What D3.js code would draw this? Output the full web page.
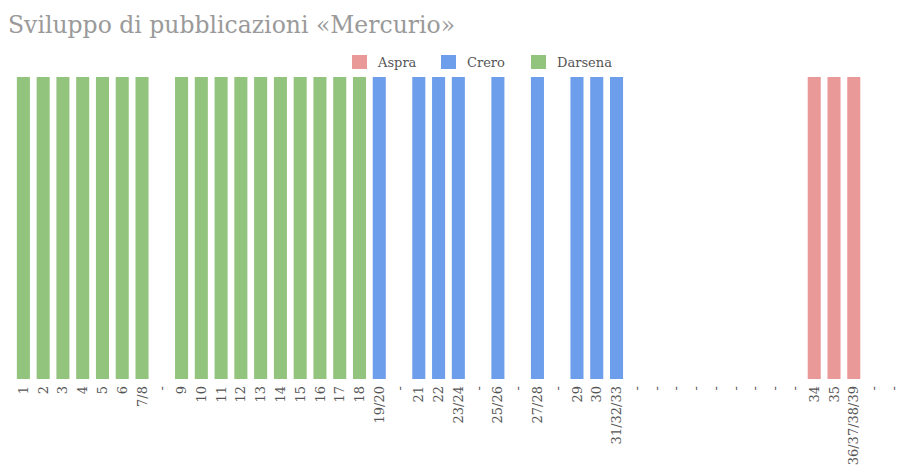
<!DOCTYPE html>
<html>
<head>
<meta charset="utf-8">
<script src="https://cdn.jsdelivr.net/npm/d3@7"></script>
<style>
  body { margin: 0; background: #fff; }
  svg { display: block; }
</style>
</head>
<body>
<svg id="chart"></svg>
<script>
var width = 913;
var height = 468;

// categories as they appear on the axis ("-" = empty slot)
var labels = ["1","2","3","4","5","6","7/8","-","9","10","11","12","13","14","15","16","17","18",
  "19/20","-","21","22","23/24","-","25/26","-","27/28","-","29","30","31/32/33",
  "-","-","-","-","-","-","-","-","-","34","35","36/37/38/39","-","-"];

var seriesNames = ["Aspra", "Crero", "Darsena"];
var colors = ["#ea9999", "#6d9eeb", "#93c47d"];

var aspra   = [0,0,0,0,0,0,0,0,0,0,0,0,0,0,0,0,0,0,0,0,0,0,0,0,0,0,0,0,0,0,0,0,0,0,0,0,0,0,0,0,1,1,1,0,0];
var crero   = [0,0,0,0,0,0,0,0,0,0,0,0,0,0,0,0,0,0,1,0,1,1,1,0,1,0,1,0,1,1,1,0,0,0,0,0,0,0,0,0,0,0,0,0,0];
var darsena = [1,1,1,1,1,1,1,0,1,1,1,1,1,1,1,1,1,1,0,0,0,0,0,0,0,0,0,0,0,0,0,0,0,0,0,0,0,0,0,0,0,0,0,0,0];

var rows = labels.map(function(l, i) {
  return { i: i, Aspra: aspra[i], Crero: crero[i], Darsena: darsena[i] };
});

var svg = d3.select("#chart")
  .attr("width", width)
  .attr("height", height);

svg.append("text")
  .attr("x", 8)
  .attr("y", 33)
  .style("font-family", "DejaVu Serif")
  .style("font-size", "23.5px")
  .style("fill", "#9a9a9a")
  .text("Sviluppo di pubblicazioni «Mercurio»");

var x = d3.scaleBand()
  .domain(d3.range(labels.length))
  .range([13.5, 903.2])
  .paddingInner(0.34)
  .paddingOuter(0.17);

var y = d3.scaleLinear()
  .domain([0, 1])
  .range([379, 77]);

var stack = d3.stack().keys(seriesNames);
var layers = stack(rows);

svg.append("g")
  .selectAll("g")
  .data(layers)
  .enter()
  .append("g")
  .style("fill", function(d, i) { return colors[i]; })
  .selectAll("rect")
  .data(function(d) { return d.filter(function(p) { return p[1] > p[0]; }); })
  .enter()
  .append("rect")
  .attr("x", function(d) { return x(d.data.i); })
  .attr("width", x.bandwidth())
  .attr("y", function(d) { return y(d[1]); })
  .attr("height", function(d) { return y(d[0]) - y(d[1]); });

var xAxis = svg.append("g")
  .attr("transform", "translate(0," + 379 + ")")
  .call(d3.axisBottom(x).tickSize(0).tickFormat(function(i) { return labels[i]; }));

xAxis.select(".domain").remove();
xAxis.selectAll("text")
  .attr("transform", "rotate(-90)")
  .attr("x", -7)
  .attr("y", 0)
  .attr("dy", "0.35em")
  .style("text-anchor", "end")
  .style("font-family", "DejaVu Serif")
  .style("font-size", "13px")
  .style("fill", "#555");

// legend
var legendX = [352, 441, 531];
var legend = svg.append("g")
  .selectAll("g")
  .data(seriesNames)
  .enter()
  .append("g")
  .attr("transform", function(d, i) { return "translate(" + legendX[i] + ",55)"; });

legend.append("rect")
  .attr("width", 15)
  .attr("height", 14)
  .style("fill", function(d, i) { return colors[i]; });

legend.append("text")
  .attr("x", 26)
  .attr("y", 12)
  .style("font-family", "DejaVu Serif")
  .style("font-size", "13px")
  .style("fill", "#555")
  .text(function(d) { return d; });
</script>
</body>
</html>
